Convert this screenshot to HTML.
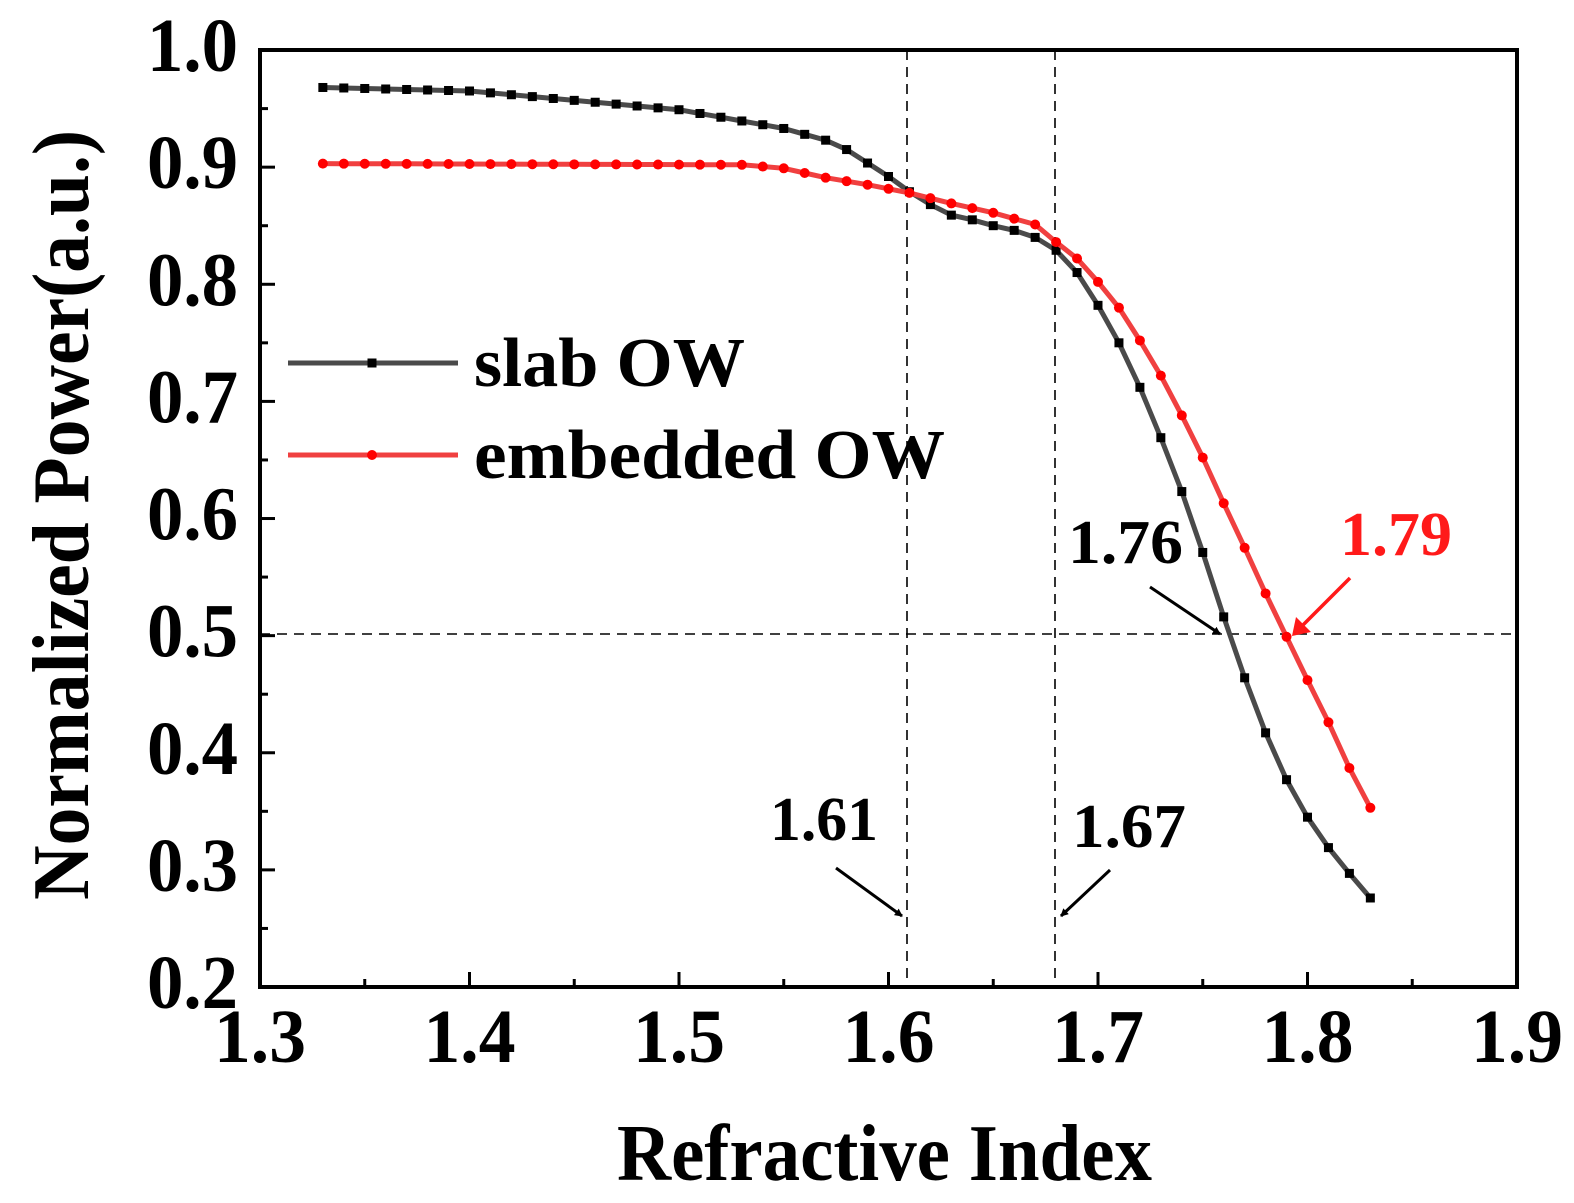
<!DOCTYPE html>
<html><head><meta charset="utf-8"><style>
html,body{margin:0;padding:0;background:#fff;}
svg{display:block;font-family:"Liberation Serif",serif;font-weight:bold;}
</style></head><body>
<svg id="s" width="1574" height="1203" viewBox="0 0 1574 1203" xmlns="http://www.w3.org/2000/svg">
<defs>
<marker id="ak" markerWidth="8" markerHeight="8" refX="7" refY="4" orient="auto" markerUnits="userSpaceOnUse"><path d="M0,0 L8,4 L0,8 Z" fill="#000"/></marker>
</defs>
<g id="g"></g>
<text x="617" y="1180" font-size="80" textLength="535" lengthAdjust="spacingAndGlyphs">Refractive Index</text>
<text transform="translate(88,900) rotate(-90)" font-size="80" textLength="770" lengthAdjust="spacingAndGlyphs">Normalized Power(a.u.)</text>
<text x="474" y="386" font-size="70" textLength="271" lengthAdjust="spacingAndGlyphs">slab OW</text>
<text x="474" y="478" font-size="70" textLength="471" lengthAdjust="spacingAndGlyphs">embedded OW</text>
<text x="770" y="840" font-size="62" textLength="108" lengthAdjust="spacingAndGlyphs">1.61</text>
<text x="1072" y="847" font-size="62" textLength="114" lengthAdjust="spacingAndGlyphs">1.67</text>
<text x="1068" y="563" font-size="62" textLength="115" lengthAdjust="spacingAndGlyphs">1.76</text>
<text x="1340" y="555" font-size="62" fill="#ff1a1a" textLength="112" lengthAdjust="spacingAndGlyphs">1.79</text>
</svg>
<script>
const g=document.getElementById('g');let h='';
const X=v=>260+(v-1.3)*2095, Y=v=>50+(1.0-v)*1171.25;
h+=`<g stroke="#000" stroke-width="1.6" stroke-dasharray="10,7" fill="none"><line x1="907" y1="50" x2="907" y2="987"/><line x1="1055" y1="50" x2="1055" y2="987"/><line x1="260" y1="634" x2="1517" y2="634"/></g>`;
for(let i=0;i<=12;i++){const x=260+i*104.75;const L=i%2?8:15;h+=`<line x1="${x}" y1="987" x2="${x}" y2="${987-L}" stroke="#000" stroke-width="3"/>`;if(i%2==0)h+=`<text x="${x-46}" y="1062" font-size="76" textLength="92" lengthAdjust="spacingAndGlyphs">${(1.3+i*0.05).toFixed(1)}</text>`;}
for(let i=0;i<=16;i++){const y=987-i*58.56;const L=i%2?8:15;h+=`<line x1="260" y1="${y}" x2="${260+L}" y2="${y}" stroke="#000" stroke-width="3"/>`;if(i%2==0)h+=`<text x="147" y="${y+21}" font-size="76" textLength="91" lengthAdjust="spacingAndGlyphs">${(0.2+i*0.05).toFixed(1)}</text>`;}
h+=`<rect x="260" y="50" width="1257" height="937" fill="none" stroke="#000" stroke-width="4"/>`;
function interp(pts){const r=[];for(let k=0;k<=50;k++){const x=1.33+k*0.01;let i=0;while(i<pts.length-2&&pts[i+1][0]<x-1e-9)i++;const[a,b]=[pts[i],pts[i+1]];const t=(x-a[0])/(b[0]-a[0]);r.push([x,a[1]+t*(b[1]-a[1])]);}return r;}
const blk=interp([[1.33,0.968],[1.40,0.965],[1.50,0.949],[1.55,0.933],[1.57,0.923],[1.58,0.915],[1.60,0.892],[1.61,0.879],[1.62,0.868],[1.63,0.859],[1.64,0.855],[1.65,0.85],[1.66,0.846],[1.67,0.84],[1.68,0.829],[1.69,0.81],[1.70,0.782],[1.71,0.75],[1.72,0.712],[1.73,0.669],[1.74,0.623],[1.75,0.571],[1.76,0.516],[1.77,0.464],[1.78,0.417],[1.79,0.377],[1.80,0.345],[1.81,0.319],[1.82,0.297],[1.83,0.276]]);
const red=interp([[1.33,0.903],[1.53,0.902],[1.55,0.899],[1.57,0.891],[1.59,0.885],[1.61,0.878],[1.63,0.869],[1.65,0.861],[1.67,0.851],[1.68,0.836],[1.69,0.822],[1.70,0.802],[1.71,0.78],[1.72,0.752],[1.73,0.722],[1.74,0.688],[1.75,0.652],[1.76,0.613],[1.77,0.575],[1.78,0.536],[1.79,0.499],[1.80,0.462],[1.81,0.426],[1.82,0.387],[1.83,0.353]]);
const pl=d=>d.map(p=>X(p[0]).toFixed(1)+','+Y(p[1]).toFixed(1)).join(' ');
h+=`<polyline points="${pl(blk)}" fill="none" stroke="#4a4a4a" stroke-width="5"/>`;
blk.forEach(p=>h+=`<rect x="${X(p[0])-4.5}" y="${Y(p[1])-4.5}" width="9" height="9" fill="#000"/>`);
h+=`<polyline points="${pl(red)}" fill="none" stroke="#f04040" stroke-width="5"/>`;
red.forEach(p=>h+=`<circle cx="${X(p[0])}" cy="${Y(p[1])}" r="5" fill="#ff0000"/>`);
h+=`<line x1="288" y1="363" x2="458" y2="363" stroke="#4a4a4a" stroke-width="5"/><rect x="367.5" y="358.5" width="9" height="9" fill="#000"/>`;
h+=`<line x1="288" y1="455" x2="458" y2="455" stroke="#f04040" stroke-width="5"/><circle cx="372" cy="455" r="5" fill="#f00"/>`;
h+=`<g stroke="#000" stroke-width="3" marker-end="url(#ak)"><line x1="836" y1="868" x2="902" y2="916"/><line x1="1110" y1="870" x2="1061" y2="916"/><line x1="1150" y1="587" x2="1220" y2="634"/></g>`;
h+=`<line x1="1350" y1="578" x2="1298" y2="630" stroke="#ff1a1a" stroke-width="3.5"/><path d="M1292,636 L1296,617 L1311,632 Z" fill="#ff1a1a"/>`;
g.innerHTML=h;
</script>
</body></html>
